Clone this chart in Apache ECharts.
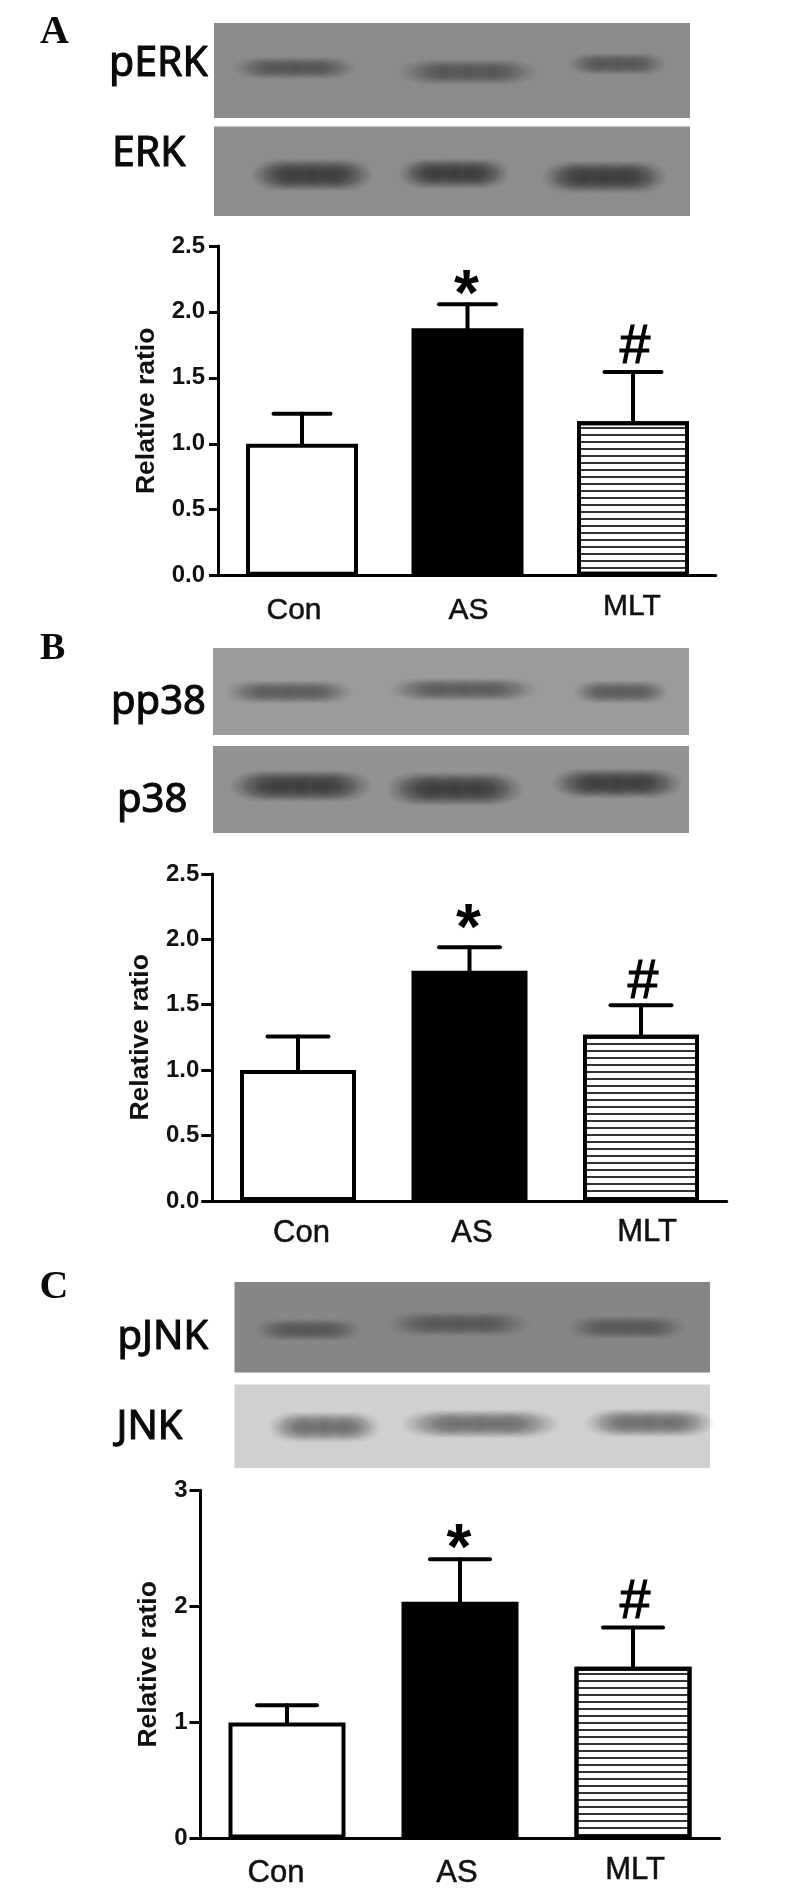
<!DOCTYPE html>
<html><head><meta charset="utf-8">
<style>html,body{margin:0;padding:0;background:#fff}#c{width:794px;height:1890px}</style>
<script src="https://cdn.jsdelivr.net/npm/echarts@6/dist/echarts.min.js"></script>
</head><body><div id="c"></div>
<script>
// ---- data ----
const categories = ['Con','AS','MLT'];
const valuesA = [1.0, 1.875, 1.17];
const errTopA = [1.227, 2.058, 1.544];
const valuesB = [1.0, 1.76, 1.27];
const errTopB = [1.256, 1.94, 1.496];
const valuesC = [1.0, 2.04, 1.48];
const errTopC = [1.149, 2.405, 1.817];
const marks = ['', '*', '#'];
const marksA = [null, 2.217, 1.725];
const marksB = [null, 2.168, 1.67];
const marksC = [null, 2.595, 2.03];
const ticksAB = [0, 2.5, 0.5];
const ticksC = [0, 3, 1];

// ---- layout ----
const SANS = '"Liberation Sans", Arial, sans-serif';
const panels = [
 {v:valuesA,e:errTopA,m:marksA,t:ticksAB,fmt:1,left:219.25,width:496.5,top:245.9,h:329.8,off:1.25,bar:112,cap:57,
  nameGap:58,tick:9,lm:13,ls:30,lm2:16.5,lab:[[-8,4],[1,4],[-1,0]]},
 {v:valuesB,e:errTopB,m:marksB,t:ticksAB,fmt:1,left:212.25,width:514.5,top:873.9,h:327,off:0,bar:116,cap:61,
  nameGap:58,tick:11,lm:13,ls:31,lm2:16,lab:[[3.5,1],[2.5,1],[6,0]]},
 {v:valuesC,e:errTopC,m:marksC,t:ticksC,fmt:0,left:200.5,width:519,top:1490.2,h:348.4,off:0,bar:117,cap:60,
  nameGap:38,tick:11,lm:13,ls:31,lm2:16.5,lab:[[-11,3],[-3,3],[2,0]]}
];

const blots = [
 {x:214,y:23,w:476,h:95,bg:'#8b8b8b',band:'40,40,40',a:.3,b:[[238,352,68,24],[405,532,72,27],[572,662,64,24]]},
 {x:214,y:126.5,w:476,h:89.5,bg:'#8d8d8d',band:'25,25,25',a:.42,b:[[256,368,175,34],[403,505,173.5,32],[547,662,177,34]]},
 {x:213,y:648,w:476,h:87,bg:'#9b9b9b',band:'40,40,40',a:.3,b:[[230,348,692,25],[395,532,689.5,25],[577,665,692,25]]},
 {x:213,y:746,w:476,h:87,bg:'#929292',band:'25,25,25',a:.42,b:[[235,366,786,34],[392,518,789,36],[557,677,783.5,32]]},
 {x:234.5,y:1282,w:475.5,h:90.5,bg:'#868686',band:'35,35,35',a:.25,b:[[258,358,1330,24],[392,525,1324,27],[572,682,1327.5,25]]},
 {x:234.5,y:1384.5,w:475.5,h:83.5,bg:'#d0d0d0',band:'60,60,60',a:.38,b:[[273,376,1427,32],[408,553,1424,30],[590,709,1423,30]]}
];
const texts = [
 {s:'A',x:40,y:46,f:40,serif:1},{s:'B',x:40,y:662.5,f:38,serif:1},{s:'C',x:39.5,y:1301.5,f:40,serif:1},
 {s:'pERK',x:109,y:76.5,f:41},{s:'ERK',x:112,y:166.5,f:41},
 {s:'pp38',x:111,y:715,f:40},{s:'p38',x:117,y:812.5,f:40},
 {s:'pJNK',x:117.5,y:1349.5,f:40},{s:'JNK',x:116.5,y:1439.5,f:40}
];

const graphic = [];
blots.forEach(bl => {
  graphic.push({type:'rect',silent:true,shape:{x:bl.x,y:bl.y,width:bl.w,height:bl.h},style:{fill:bl.bg},z:1});
  bl.b.forEach(([x0,x1,cy,th]) => {
    const w = x1-x0;
    [[.2,.25],[.35,.3],[.5,.34],[.65,.3],[.8,.25]].forEach(([f,hf]) => {
      graphic.push({type:'circle',silent:true,x:x0+w*f,y:cy,scaleX:w*hf/50,scaleY:th/2/50,shape:{cx:0,cy:0,r:50},z:2,
        style:{fill:new echarts.graphic.RadialGradient(.5,.5,.5,[
          {offset:0,color:`rgba(${bl.band},${bl.a})`},{offset:.5,color:`rgba(${bl.band},${bl.a*.7})`},{offset:1,color:`rgba(${bl.band},0)`}])}});
    });
  });
});
texts.forEach(t => {
  graphic.push({type:'text',silent:true,x:t.x,y:t.y-(t.serif?.84:.8)*t.f,z:3,style:{
    text:t.s,textVerticalAlign:'top',fill:'#0a0a0a',
    font: t.serif ? `bold ${t.f}px "Liberation Serif", serif` : `${t.f}px "Noto Sans", sans-serif`,
    stroke: t.serif ? null : '#0a0a0a', lineWidth: t.serif ? 0 : 1.1}});
});

const grid=[],xAxis=[],yAxis=[],series=[];
panels.forEach((p,i) => {
  grid.push({left:p.left,width:p.width,top:p.top,height:p.h,containLabel:false});
  const rich={};
  categories.forEach((c,k)=>{ const [dx,dy]=p.lab[k];
    rich['c'+k]={fontFamily:SANS,fontSize:p.ls,color:'#111',textBorderColor:'#111',textBorderWidth:.5,
      padding:[dy,dx<0?-2*dx:0,0,dx>0?2*dx:0]}; });
  xAxis.push({type:'category',gridIndex:i,data:categories,
    axisLine:{lineStyle:{color:'#000',width:3}},
    axisTick:{alignWithLabel:true,interval:(k)=>k===1,length:10,lineStyle:{color:'#000',width:3}},
    axisLabel:{interval:0,margin:p.lm2,formatter:(v,k)=>`{c${k}|${v}}`,rich}});
  yAxis.push({type:'value',gridIndex:i,min:p.t[0],max:p.t[1],interval:p.t[2],offset:p.off,
    name:'Relative ratio',nameLocation:'middle',nameRotate:90,nameGap:p.nameGap,
    nameTextStyle:{fontFamily:SANS,fontWeight:'bold',fontSize:26.5,color:'#111'},
    splitLine:{show:false},
    axisLine:{show:true,lineStyle:{color:'#000',width:3}},
    axisTick:{show:true,length:p.tick,lineStyle:{color:'#000',width:3}},
    axisLabel:{margin:p.lm,fontFamily:SANS,fontWeight:'bold',fontSize:24,color:'#111',
      formatter:(v)=>p.fmt?v.toFixed(1):String(v)}});
  series.push({type:'bar',xAxisIndex:i,yAxisIndex:i,barWidth:p.bar,silent:true,z:2,
    data:p.v.map((v,k)=>({value:v,itemStyle:
      k===0?{color:'#fff',borderColor:'#000',borderWidth:4}:
      k===1?{color:'#000',borderColor:'#000',borderWidth:4}:
      {color:'#fff',borderColor:'#000',borderWidth:4,
       decal:{symbol:'rect',symbolSize:1,color:'#333',backgroundColor:null,dashArrayX:[1,0],dashArrayY:[2,5],rotation:0}}}))});
  series.push({type:'custom',xAxisIndex:i,yAxisIndex:i,silent:true,z:1,clip:false,
    data:p.v.map((v,k)=>[k,v,p.e[k]]),
    renderItem:(params,api)=>{
      const a=api.coord([api.value(0),api.value(1)]),b=api.coord([api.value(0),api.value(2)]);
      const st={stroke:'#000',lineWidth:4,lineCap:'round',fill:null};
      return {type:'group',children:[
        {type:'line',shape:{x1:a[0],y1:a[1],x2:b[0],y2:b[1]},style:st},
        {type:'line',shape:{x1:b[0]-p.cap/2,y1:b[1],x2:b[0]+p.cap/2,y2:b[1]},style:st}]};
    }});
  series.push({type:'custom',xAxisIndex:i,yAxisIndex:i,silent:true,z:3,clip:false,
    data:p.m.map((m,k)=>[k,m==null?NaN:m]),
    renderItem:(params,api)=>{
      const k=api.value(0),y=api.value(1);
      if(isNaN(y)) return null;
      const c=api.coord([k,y]),star=marks[k]==='*';
      return {type:'text',x:c[0]+(star?-1:2),y:c[1]+(star?14:0),style:{
        text:marks[k],textAlign:'center',textVerticalAlign:'middle',fill:'#000',
        stroke:star?null:'#000',lineWidth:star?0:1.2,
        font:`${star?'bold ':''}${star?64:55}px ${SANS}`}};
    }});
});

const chart=echarts.init(document.getElementById('c'),null,{renderer:'canvas'});
chart.setOption({animation:false,backgroundColor:'#fff',grid,xAxis,yAxis,series,graphic});
</script></body></html>
